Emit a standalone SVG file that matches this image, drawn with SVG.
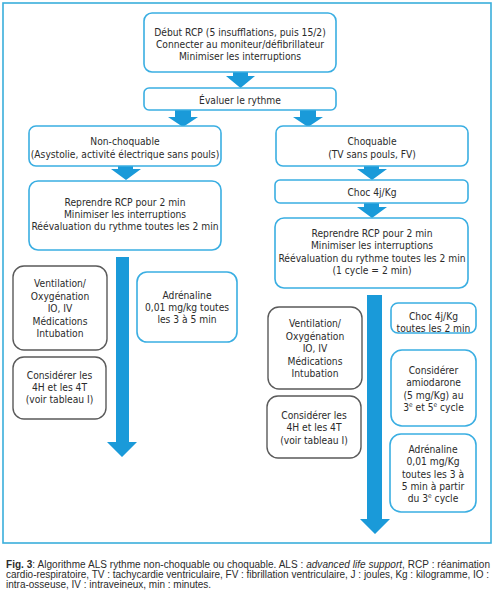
<svg xmlns="http://www.w3.org/2000/svg" width="496" height="600" viewBox="0 0 496 600">
<style>
.bx{fill:#fff;stroke:#3aaee2;stroke-width:1.6}
.gx{fill:#fff;stroke:#5a5a5a;stroke-width:1.4}
.t{font-family:"Liberation Sans Narrow","DejaVu Sans Condensed","Liberation Sans",sans-serif;font-size:10.2px;fill:#2b2b2b;text-anchor:middle}
.ar{fill:#1a9ad9}
.cap{font-family:"Liberation Sans Narrow","Liberation Sans",sans-serif;font-size:10px;fill:#2b2b2b}
</style>
<rect width="496" height="600" fill="#fff"/>
<rect x="3" y="3" width="488" height="540" fill="none" stroke="#3aaedb" stroke-width="1.6"/>
<g id="connectors">
<polygon class="ar" points="233,72 248,72 248,76 255,76 240.5,88 226,76 233,76"/>
<polygon class="ar" points="175,110 191,110 191,117 198,117 183,127 168,117 175,117"/>
<polygon class="ar" points="300,110 316,110 316,117 323,117 308,127 293,117 300,117"/>
<polygon class="ar" points="118,166 133,166 133,169 141,169 126,180 111,169 118,169"/>
<polygon class="ar" points="364,166 379,166 379,169 387,169 372,180 357,169 364,169"/>
<polygon class="ar" points="364,203 379,203 379,207 387,207 372,218 357,207 364,207"/>
<polygon class="ar" points="116,257 129,257 129,442 137,442 122,457 107,442 116,442"/>
<polygon class="ar" points="367,295 382,295 382,519 390,519 375,534 360,519 367,519"/>
</g>
<g id="debut">
<rect class="bx" x="144" y="13" width="192" height="59" rx="8"/>
<text class="t" x="240" y="36">Début RCP (5 insufflations, puis 15/2)</text>
<text class="t" x="240" y="48">Connecter au moniteur/défibrillateur</text>
<text class="t" x="240" y="60">Minimiser les interruptions</text>
</g>
<g id="evaluer">
<rect class="bx" x="144" y="88" width="192" height="22" rx="5"/>
<text class="t" x="240" y="103.5">Évaluer le rythme</text>
</g>
<g id="nonchoq">
<rect class="bx" x="29" y="126" width="192" height="40" rx="7"/>
<text class="t" x="125" y="145">Non-choquable</text>
<text class="t" x="125" y="158">(Asystolie, activité électrique sans pouls)</text>
</g>
<g id="choq">
<rect class="bx" x="276" y="126" width="192" height="40" rx="7"/>
<text class="t" x="372" y="145">Choquable</text>
<text class="t" x="372" y="158">(TV sans pouls, FV)</text>
</g>
<g id="reprendre-l">
<rect class="bx" x="29" y="181" width="192" height="69" rx="9"/>
<text class="t" x="125" y="206">Reprendre RCP pour 2 min</text>
<text class="t" x="125" y="218">Minimiser les interruptions</text>
<text class="t" x="125" y="230">Réévaluation du rythme toutes les 2 min</text>
</g>
<g id="choc">
<rect class="bx" x="275" y="180" width="193" height="23" rx="5"/>
<text class="t" x="372" y="195.5">Choc 4j/Kg</text>
</g>
<g id="reprendre-r">
<rect class="bx" x="275" y="218" width="193" height="70" rx="9"/>
<text class="t" x="372" y="236.5">Reprendre RCP pour 2 min</text>
<text class="t" x="372" y="249">Minimiser les interruptions</text>
<text class="t" x="372" y="261.5">Réévaluation du rythme toutes les 2 min</text>
<text class="t" x="372" y="274">(1 cycle = 2 min)</text>
</g>
<g id="ventil-l">
<rect class="gx" x="13" y="266" width="94" height="84" rx="11"/>
<text class="t" x="60" y="287">Ventilation/</text>
<text class="t" x="60" y="299.5">Oxygénation</text>
<text class="t" x="60" y="312">IO, IV</text>
<text class="t" x="60" y="324.5">Médications</text>
<text class="t" x="60" y="337">Intubation</text>
</g>
<g id="adre-l">
<rect class="bx" x="137" y="272" width="100" height="70" rx="10"/>
<text class="t" x="187" y="298.5">Adrénaline</text>
<text class="t" x="187" y="310.5">0,01 mg/kg toutes</text>
<text class="t" x="187" y="322.5">les 3 à 5 min</text>
</g>
<g id="cons-l">
<rect class="gx" x="13" y="357" width="93" height="62" rx="11"/>
<text class="t" x="59.5" y="379">Considérer les</text>
<text class="t" x="59.5" y="391">4H et les 4T</text>
<text class="t" x="59.5" y="403">(voir tableau I)</text>
</g>
<g id="ventil-r">
<rect class="gx" x="268" y="307" width="94" height="82" rx="11"/>
<text class="t" x="315" y="327">Ventilation/</text>
<text class="t" x="315" y="339.5">Oxygénation</text>
<text class="t" x="315" y="352">IO, IV</text>
<text class="t" x="315" y="364.5">Médications</text>
<text class="t" x="315" y="377">Intubation</text>
</g>
<g id="cons-r">
<rect class="gx" x="267" y="396" width="94" height="62" rx="11"/>
<text class="t" x="314" y="419">Considérer les</text>
<text class="t" x="314" y="431">4H et les 4T</text>
<text class="t" x="314" y="443.5">(voir tableau I)</text>
</g>
<g id="choc-toutes">
<rect class="bx" x="391" y="303" width="85" height="30" rx="7"/>
<text class="t" x="433.5" y="319.5">Choc 4j/Kg</text>
<text class="t" x="433.5" y="331.5">toutes les 2 min</text>
</g>
<g id="amio">
<rect class="bx" x="391" y="350" width="85" height="76" rx="11"/>
<text class="t" x="433.5" y="373.5">Considérer</text>
<text class="t" x="433.5" y="386">amiodarone</text>
<text class="t" x="433.5" y="398.5">(5 mg/Kg) au</text>
<text class="t" x="433.5" y="411">3<tspan font-size="6.5" dy="-4">e</tspan><tspan dy="4"> et 5</tspan><tspan font-size="6.5" dy="-4">e</tspan><tspan dy="4"> cycle</tspan></text>
</g>
<g id="adre-r">
<rect class="bx" x="390" y="434" width="86" height="78" rx="11"/>
<text class="t" x="433" y="452.5">Adrénaline</text>
<text class="t" x="433" y="465">0,01 mg/Kg</text>
<text class="t" x="433" y="477.5">toutes  les 3 à</text>
<text class="t" x="433" y="490">5 min à partir</text>
<text class="t" x="433" y="502">du 3<tspan font-size="6.5" dy="-4">e</tspan><tspan dy="4"> cycle</tspan></text>
</g>
<g id="caption">
<text class="cap" x="6" y="568" textLength="484" lengthAdjust="spacing"><tspan font-weight="bold">Fig. 3</tspan>: Algorithme ALS rythme non-choquable ou choquable. ALS : <tspan font-style="italic">advanced life support</tspan>, RCP : réanimation</text>
<text class="cap" x="6" y="578" textLength="483" lengthAdjust="spacing">cardio-respiratoire, TV : tachycardie ventriculaire, FV : fibrillation ventriculaire, J : joules, Kg : kilogramme, IO :</text>
<text class="cap" x="6" y="588">intra-osseuse, IV : intraveineux, min : minutes.</text>
</g>
</svg>
